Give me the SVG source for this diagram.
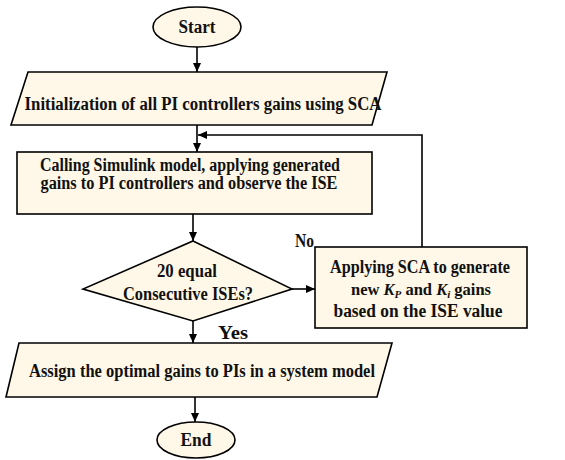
<svg xmlns="http://www.w3.org/2000/svg" width="565" height="460" viewBox="0 0 565 460">
<defs>
<marker id="ah" markerWidth="10" markerHeight="10" refX="9" refY="5" orient="auto" markerUnits="userSpaceOnUse">
<path d="M0,1 L9,5 L0,9 Z" fill="#000"/>
</marker>
<style>
.shape{fill:#FFF8E8;stroke:#000;stroke-width:1.6}
.t{font-family:"Liberation Serif","Times New Roman",serif;font-weight:bold;font-size:18px;fill:#111}
.c{text-anchor:middle}
.con{fill:none;stroke:#000;stroke-width:1.6}
</style>
</defs>
<rect width="565" height="460" fill="#fff"/>
<g id="connectors">
<line class="con" x1="197" y1="47" x2="197" y2="72" marker-end="url(#ah)"/>
<line class="con" x1="197" y1="125" x2="197" y2="152" marker-end="url(#ah)"/>
<polyline class="con" points="422,247 422,135 198,135" marker-end="url(#ah)"/>
<line class="con" x1="193" y1="214" x2="193" y2="241" marker-end="url(#ah)"/>
<line class="con" x1="292" y1="289" x2="315" y2="289" marker-end="url(#ah)"/>
<line class="con" x1="193" y1="321" x2="193" y2="343" marker-end="url(#ah)"/>
<line class="con" x1="195" y1="397" x2="195" y2="422" marker-end="url(#ah)"/>
<text class="t" x="295" y="247" textLength="19" lengthAdjust="spacingAndGlyphs">No</text>
<text class="t" x="218" y="339" textLength="30" lengthAdjust="spacingAndGlyphs">Yes</text>
</g>
<g id="start">
<ellipse class="shape" cx="197" cy="27" rx="44" ry="20"/>
<text class="t c" x="197" y="33" textLength="37" lengthAdjust="spacingAndGlyphs">Start</text>
</g>
<g id="init">
<polygon class="shape" points="28,72 387,72 372,125 11,125"/>
<text class="t c" x="203" y="110" textLength="357" lengthAdjust="spacingAndGlyphs">Initialization of all PI controllers gains using SCA</text>
</g>
<g id="simulink">
<rect class="shape" x="17" y="152" width="355" height="62"/>
<text class="t c" x="190" y="171" textLength="300" lengthAdjust="spacingAndGlyphs">Calling Simulink model, applying generated</text>
<text class="t c" x="189" y="189" textLength="297" lengthAdjust="spacingAndGlyphs">gains to PI controllers and observe the ISE</text>
</g>
<g id="decision">
<polygon class="shape" points="193,241 292,289 193,321 83,289"/>
<text class="t c" x="187" y="277" textLength="60" lengthAdjust="spacingAndGlyphs">20 equal</text>
<text class="t c" x="188" y="300" textLength="130" lengthAdjust="spacingAndGlyphs">Consecutive ISEs?</text>
</g>
<g id="update">
<rect class="shape" x="315" y="247" width="212" height="81"/>
<text class="t c" x="420" y="273" textLength="180" lengthAdjust="spacingAndGlyphs">Applying SCA to generate</text>
<text class="t c" x="421" y="295" style="font-size:16.5px">new <tspan font-style="italic">K</tspan><tspan font-style="italic" font-size="11" dy="3">P</tspan><tspan dy="-3"> and </tspan><tspan font-style="italic">K</tspan><tspan font-style="italic" font-size="11" dy="3">i</tspan><tspan dy="-3"> gains</tspan></text>
<text class="t c" x="418" y="317" textLength="169" lengthAdjust="spacingAndGlyphs">based on the ISE value</text>
</g>
<g id="assign">
<polygon class="shape" points="19,343 392,343 377,397 6,397"/>
<text class="t c" x="202" y="377" textLength="346" lengthAdjust="spacingAndGlyphs">Assign the optimal gains to PIs in a system model</text>
</g>
<g id="end">
<ellipse class="shape" cx="196" cy="440" rx="39" ry="18"/>
<text class="t c" x="196" y="446" textLength="31" lengthAdjust="spacingAndGlyphs">End</text>
</g>
</svg>
